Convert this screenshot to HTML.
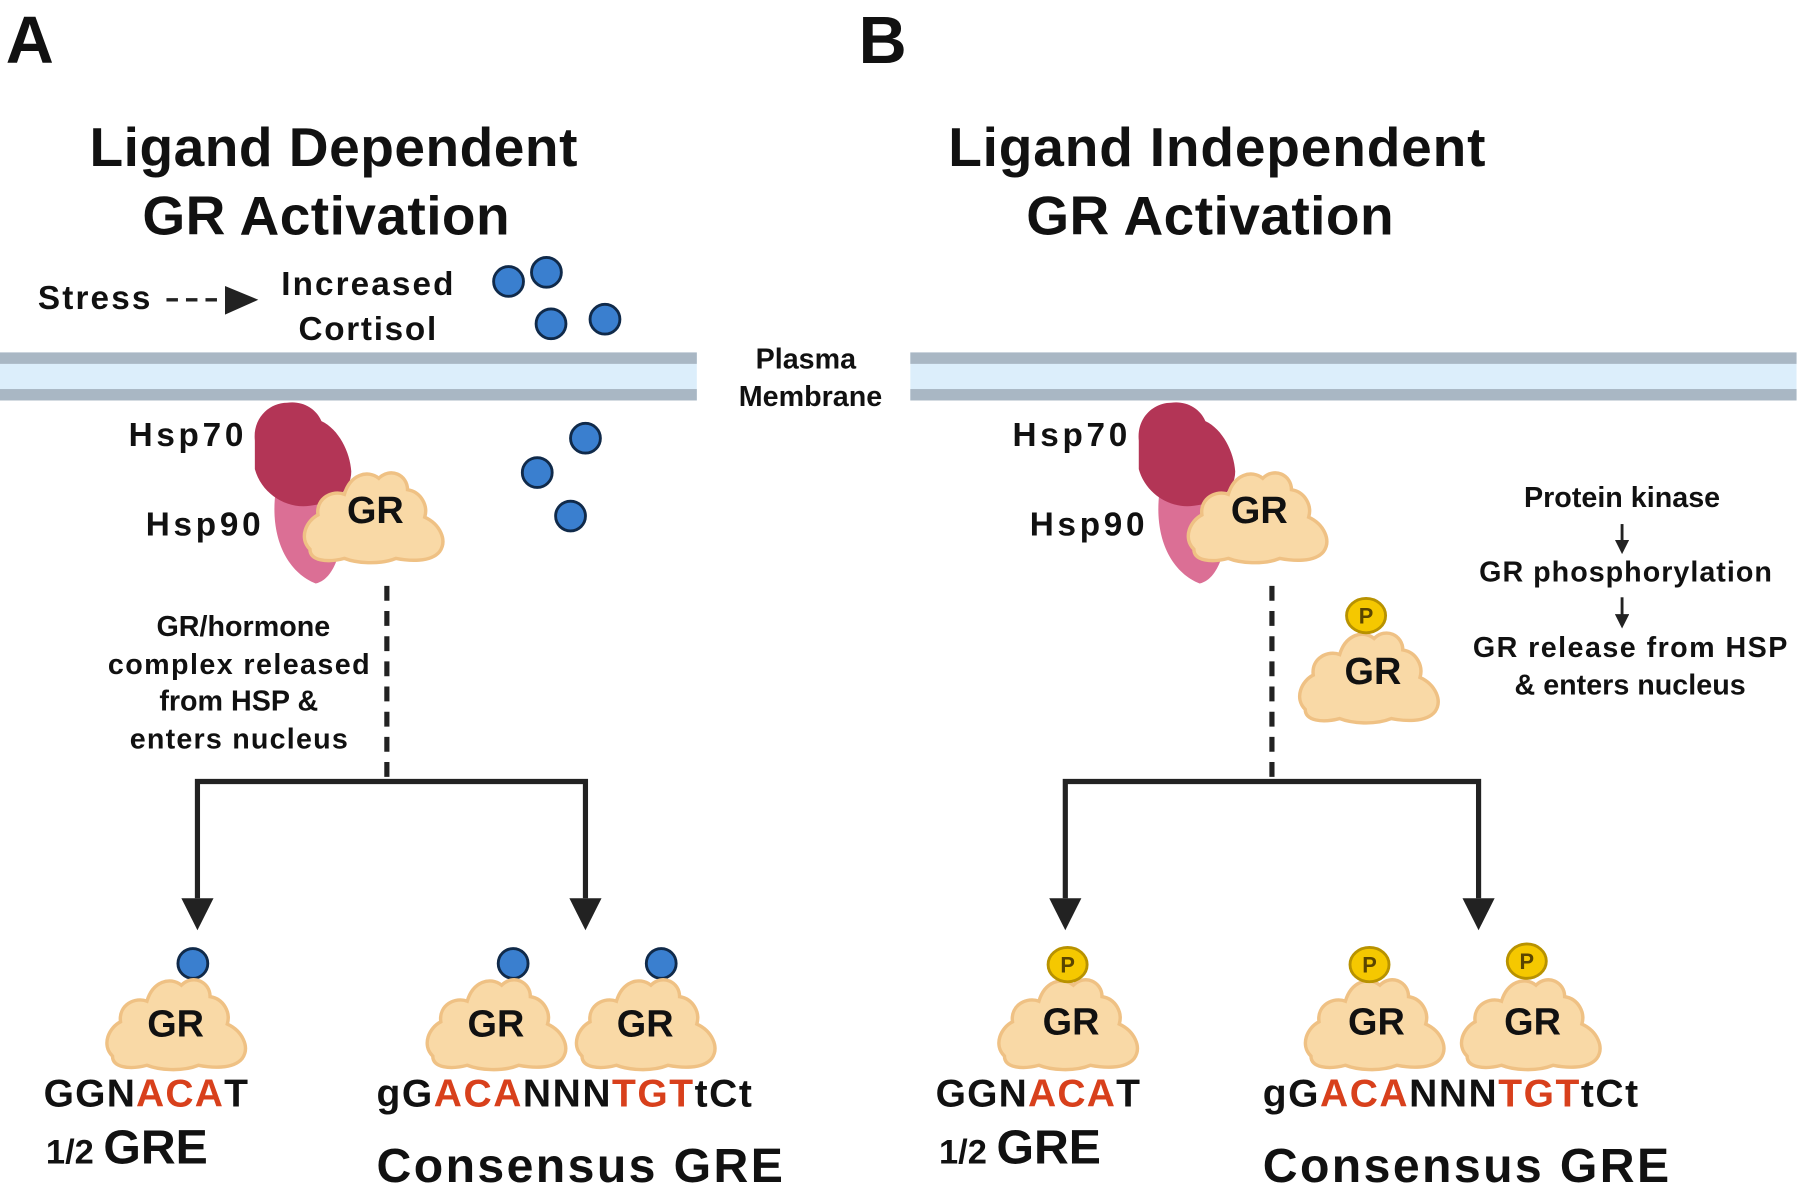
<!DOCTYPE html>
<html><head><meta charset="utf-8"><style>
html,body{margin:0;padding:0;background:#fff;}
svg{display:block;}
text{font-family:"Liberation Sans",sans-serif;font-weight:bold;fill:#111;}
</style></head><body>
<svg width="1800" height="1190" viewBox="0 0 1568 1040" preserveAspectRatio="none" xmlns="http://www.w3.org/2000/svg">
<defs>
<path id="gr" d="M-55,30 C-65,20 -58,5 -48,0 C-50,-15 -35,-22 -25,-18 C-20,-35 -5,-40 5,-32 C15,-42 30,-35 30,-22 C42,-20 48,-8 45,2 C58,8 65,22 58,32 C50,42 30,40 20,38 C5,44 -15,42 -25,38 C-40,42 -55,40 -55,30 Z" fill="#f9d9a6" stroke="#efc184" stroke-width="3"/>
<marker id="ah" viewBox="0 0 10 10" refX="5" refY="5" markerWidth="5" markerHeight="5" orient="auto"><path d="M0,0 L10,5 L0,10 Z" fill="#222"/></marker>
</defs>
<text x="5" y="55" font-size="58">A</text>
<text x="748" y="55" font-size="58">B</text>
<text x="78" y="145" font-size="48" textLength="425">Ligand Dependent</text>
<text x="124" y="205" font-size="48" textLength="320">GR Activation</text>
<text x="826" y="145" font-size="48" textLength="468">Ligand Independent</text>
<text x="894" y="205" font-size="48" textLength="320">GR Activation</text>
<text x="33" y="270" font-size="29" textLength="98">Stress</text>
<line x1="145" y1="262" x2="200" y2="262" stroke="#222" stroke-width="3" stroke-dasharray="10,7"/>
<path d="M196,250 L225,262 L196,275 Z" fill="#222"/>
<text x="320" y="258" font-size="29" text-anchor="middle" textLength="150">Increased</text>
<text x="320" y="297" font-size="29" text-anchor="middle" textLength="120">Cortisol</text>
<g fill="#3a7fcf" stroke="#102a4a" stroke-width="2.5">
<circle cx="443" cy="246" r="13"/><circle cx="476" cy="238" r="13"/><circle cx="480" cy="283" r="13"/><circle cx="527" cy="279" r="13"/>
<circle cx="510" cy="383" r="13"/><circle cx="468" cy="413" r="13"/><circle cx="497" cy="451" r="13"/>
<circle cx="168" cy="842" r="13"/><circle cx="447" cy="842" r="13"/><circle cx="576" cy="842" r="13"/>
</g>
<g>
<rect x="0" y="308" width="607" height="42" fill="#dceefb"/>
<rect x="0" y="308" width="607" height="10" fill="#a9b7c4"/>
<rect x="0" y="340" width="607" height="10" fill="#a9b7c4"/>
<rect x="793" y="308" width="772" height="42" fill="#dceefb"/>
<rect x="793" y="308" width="772" height="10" fill="#a9b7c4"/>
<rect x="793" y="340" width="772" height="10" fill="#a9b7c4"/>
</g>
<text x="702" y="322" font-size="25" text-anchor="middle">Plasma</text>
<text x="706" y="355" font-size="25" text-anchor="middle">Membrane</text>
<g id="cx">
<path d="M240,430 C235,470 250,500 275,510 C295,505 300,470 300,440 L290,420 Z" fill="#db6f95"/>
<path d="M222,385 C220,365 235,352 250,352 C262,350 275,356 280,368 C295,375 305,395 306,412 C306,430 290,440 270,442 C250,445 228,432 222,410 Z" fill="#b33556"/>
<use href="#gr" transform="translate(325,450)"/>
<text x="327" y="457" font-size="33" text-anchor="middle">GR</text>
</g>
<use href="#cx" transform="translate(770,0)"/>
<text x="112" y="390" font-size="29" textLength="100">Hsp70</text>
<text x="127" y="468" font-size="29" textLength="100">Hsp90</text>
<text x="882" y="390" font-size="29" textLength="100">Hsp70</text>
<text x="897" y="468" font-size="29" textLength="100">Hsp90</text>
<line x1="337" y1="512" x2="337" y2="683" stroke="#222" stroke-width="4.5" stroke-dasharray="13,9"/>
<g font-size="25" text-anchor="middle">
<text x="212" y="556">GR/hormone</text>
<text x="208" y="589" textLength="228">complex released</text>
<text x="208" y="621">from HSP &amp;</text>
<text x="208" y="654" textLength="190">enters nucleus</text>
</g>
<path d="M172,785 L172,683 L510,683 L510,785" fill="none" stroke="#222" stroke-width="4.5"/>
<path d="M158,785 L186,785 L172,813 Z" fill="#222"/><path d="M496,785 L524,785 L510,813 Z" fill="#222"/>
<line x1="1108" y1="512" x2="1108" y2="683" stroke="#222" stroke-width="4.5" stroke-dasharray="13,9"/>
<path d="M928,785 L928,683 L1288,683 L1288,785" fill="none" stroke="#222" stroke-width="4.5"/>
<path d="M914,785 L942,785 L928,813 Z" fill="#222"/><path d="M1274,785 L1302,785 L1288,813 Z" fill="#222"/>
<g font-size="25" text-anchor="middle">
<text x="1413" y="443">Protein kinase</text>
<text x="1416" y="508" textLength="255">GR phosphorylation</text>
<text x="1420" y="574" textLength="274">GR release from HSP</text>
<text x="1420" y="607">&amp; enters nucleus</text>
</g>
<line x1="1413" y1="458" x2="1413" y2="478" stroke="#222" stroke-width="2.5" marker-end="url(#ah)"/>
<line x1="1413" y1="522" x2="1413" y2="543" stroke="#222" stroke-width="2.5" marker-end="url(#ah)"/>
<use href="#gr" transform="translate(1192,590)"/>
<text x="1196" y="598" font-size="33" text-anchor="middle">GR</text>
<g>
<use href="#gr" transform="translate(153,893)"/><text x="153" y="906" font-size="33" text-anchor="middle">GR</text>
<use href="#gr" transform="translate(432,893)"/><use href="#gr" transform="translate(562,893)"/>
<text x="432" y="906" font-size="33" text-anchor="middle">GR</text><text x="562" y="906" font-size="33" text-anchor="middle">GR</text>
<use href="#gr" transform="translate(930,893)"/><text x="933" y="904" font-size="33" text-anchor="middle">GR</text>
<use href="#gr" transform="translate(1197,893)"/><use href="#gr" transform="translate(1333,893)"/>
<text x="1199" y="904" font-size="33" text-anchor="middle">GR</text><text x="1335" y="904" font-size="33" text-anchor="middle">GR</text>
</g>
<g fill="#f5c800" stroke="#b89200" stroke-width="2.5">
<ellipse cx="1190" cy="538" rx="17" ry="15"/><ellipse cx="930" cy="843" rx="17" ry="15"/><ellipse cx="1193" cy="843" rx="17" ry="15"/><ellipse cx="1330" cy="840" rx="17" ry="15"/>
</g>
<g font-size="19" font-weight="normal" text-anchor="middle">
<text x="1190" y="545" style="fill:#5a4500">P</text><text x="930" y="850" style="fill:#5a4500">P</text><text x="1193" y="850" style="fill:#5a4500">P</text><text x="1330" y="847" style="fill:#5a4500">P</text>
</g>
<g font-size="34">
<text x="38" y="967" textLength="178">GGN<tspan style="fill:#d8401c">ACA</tspan>T</text>
<text x="328" y="967" textLength="327">gG<tspan style="fill:#d8401c">ACA</tspan>NNN<tspan style="fill:#d8401c">TGT</tspan>tCt</text>
<text x="815" y="967" textLength="178">GGN<tspan style="fill:#d8401c">ACA</tspan>T</text>
<text x="1100" y="967" textLength="327">gG<tspan style="fill:#d8401c">ACA</tspan>NNN<tspan style="fill:#d8401c">TGT</tspan>tCt</text>
</g>
<text x="40" y="1017"><tspan font-size="30">1/2 </tspan><tspan font-size="42">GRE</tspan></text>
<text x="818" y="1017"><tspan font-size="30">1/2 </tspan><tspan font-size="42">GRE</tspan></text>
<text x="328" y="1033" font-size="42" textLength="354">Consensus  GRE</text>
<text x="1100" y="1033" font-size="42" textLength="354">Consensus  GRE</text>
</svg>
</body></html>
